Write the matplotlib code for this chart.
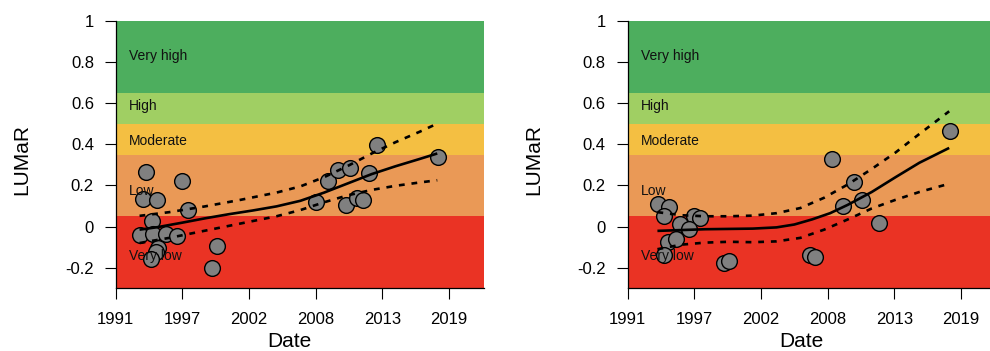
import matplotlib
matplotlib.use("Agg")
import matplotlib.pyplot as plt

plt.rcParams['font.family'] = ['Liberation Sans', 'DejaVu Sans']

# Condition bands (lower, upper, label, colour)
band_names = ["Very low", "Low", "Moderate", "High", "Very high"]
band_lower = [-0.3, 0.05, 0.35, 0.50, 0.65]
band_upper = [0.05, 0.35, 0.50, 0.65, 1.0]
band_colors = ["#EA3324", "#EA9956", "#F4BF42", "#A0CF63", "#4DAE5E"]
band_label_y = [-0.164, 0.151, 0.395, 0.564, 0.808]

# Axis ticks (decimal years)
x_ticks = [1991.5, 1997.1, 2002.7, 2008.3, 2013.9, 2019.5]
x_tick_labels = ["1991", "1997", "2002", "2008", "2013", "2019"]
y_ticks = [-0.2, 0.0, 0.2, 0.4, 0.6, 0.8, 1.0]
y_tick_labels = ["-0.2", "0", "0.2", "0.4", "0.6", "0.8", "1"]

# Left site: observations
left_year = [1994.0, 1993.8, 1995.0, 1997.1, 1997.55, 1994.55, 1993.57, 1994.6,
             1995.7, 1996.62, 1995.03, 1994.9, 1994.49, 2000.0, 1999.6, 2008.3,
             2009.35, 2010.2, 2011.17, 2010.84, 2011.8, 2012.26, 2012.8, 2013.4,
             2018.56]
left_value = [0.265, 0.134, 0.127, 0.22, 0.08, 0.028, -0.04, -0.037,
              -0.037, -0.045, -0.105, -0.122, -0.159, -0.094, -0.2, 0.119,
              0.22, 0.277, 0.283, 0.106, 0.14, 0.127, 0.26, 0.395,
              0.338]

# Left site: smoothed trend and confidence limits
left_fit_year = [1993.5, 1995.0, 1997.0, 1999.0, 2001.0, 2003.0, 2005.0, 2007.0,
                 2009.0, 2011.0, 2013.0, 2015.0, 2017.0, 2018.5]
left_fit = [-0.015, -0.003, 0.018, 0.04, 0.06, 0.078, 0.098, 0.125,
            0.165, 0.21, 0.255, 0.293, 0.328, 0.355]
left_ci_year = [1993.5, 1996.0, 1999.0, 2002.0, 2005.0, 2007.0, 2009.0, 2011.0,
                2013.0, 2015.0, 2017.0, 2018.5]
left_upper = [0.052, 0.07, 0.098, 0.13, 0.165, 0.195, 0.24, 0.295,
              0.355, 0.41, 0.46, 0.50]
left_lower = [-0.08, -0.055, -0.02, 0.015, 0.05, 0.08, 0.118, 0.152,
              0.178, 0.198, 0.214, 0.225]

# Right site: observations
right_year = [1994.07, 1994.97, 1994.52, 1995.89, 1997.07, 1997.57, 1996.65,
              1994.86, 1995.55, 1994.57, 1999.61, 2000.03, 2006.8, 2007.23,
              2008.63, 2010.53, 2009.58, 2011.2, 2012.57, 2018.56]
right_value = [0.111, 0.095, 0.052, 0.013, 0.052, 0.041, -0.011,
               -0.075, -0.059, -0.14, -0.179, -0.166, -0.14, -0.146,
               0.329, 0.218, 0.102, 0.13, 0.016, 0.462]

# Right site: smoothed trend and confidence limits
right_fit_year = [1994.0, 1998.0, 2002.0, 2004.0, 2005.5, 2007.0, 2008.5,
                  2010.0, 2012.0, 2014.0, 2016.0, 2018.5]
right_fit = [-0.021, -0.013, -0.01, -0.004, 0.01, 0.035, 0.065,
             0.106, 0.168, 0.24, 0.31, 0.382]
right_ci_year = [1994.0, 1996.0, 1998.0, 2000.0, 2002.0, 2004.0, 2006.0,
                 2008.0, 2010.0, 2012.0, 2014.0, 2016.0, 2018.5]
right_upper = [0.07, 0.055, 0.05, 0.05, 0.053, 0.065, 0.09,
               0.14, 0.205, 0.28, 0.36, 0.45, 0.56]
right_lower = [-0.11, -0.088, -0.078, -0.074, -0.076, -0.072, -0.055,
               -0.015, 0.035, 0.088, 0.13, 0.168, 0.208]

fig = plt.figure(figsize=(9.9, 3.51), dpi=100)

panels = [
    (0.1169, left_year, left_value, left_fit_year, left_fit,
     left_ci_year, left_upper, left_lower),
    (0.6340, right_year, right_value, right_fit_year, right_fit,
     right_ci_year, right_upper, right_lower),
]

for left, yrs, vals, fy, fv, cy, cu, cl in panels:
    ax = fig.add_axes([left, 0.1786, 0.3717, 0.7624])
    ax.set_xlim(1991.5, 2022.4)
    ax.set_ylim(-0.3, 1.0)

    for lo, hi, col, name, ly in zip(band_lower, band_upper, band_colors,
                                      band_names, band_label_y):
        ax.axhspan(lo, hi, color=col, lw=0, zorder=0)
        ax.text(0.037, ly, name, transform=ax.get_yaxis_transform(),
                fontsize=10, va="baseline", ha="left", color="#111111",
                zorder=5)

    ax.scatter(yrs, vals, s=128, facecolor="#808080", edgecolor="black",
               linewidth=1.0, zorder=2)
    ax.plot(fy, fv, color="black", lw=1.9, zorder=3, solid_capstyle="butt",
            solid_joinstyle="round")
    for series in (cu, cl):
        ax.plot(cy, series, color="black", lw=1.9, zorder=3,
                linestyle=(0, (2.2, 2.6)), dash_capstyle="butt")

    ax.set_xticks(x_ticks)
    ax.set_xticklabels(x_tick_labels)
    ax.set_yticks(y_ticks)
    ax.set_yticklabels(y_tick_labels)
    ax.tick_params(axis="both", labelsize=12, length=7.7, width=0.8,
                   color="black", direction="out")
    ax.tick_params(axis="y", pad=8)
    ax.tick_params(axis="x", pad=9)
    for side in ("top", "right"):
        ax.spines[side].set_visible(False)
    for side in ("left", "bottom"):
        ax.spines[side].set_linewidth(0.9)

    ax.text(0.471, -0.221, "Date", transform=ax.transAxes, fontsize=15,
            ha="center", va="baseline")
    ax.text(-0.2565, 0.481, "LUMaR", transform=ax.transAxes, fontsize=15,
            ha="center", va="center", rotation=90)

fig.savefig("out.png", dpi=100)
